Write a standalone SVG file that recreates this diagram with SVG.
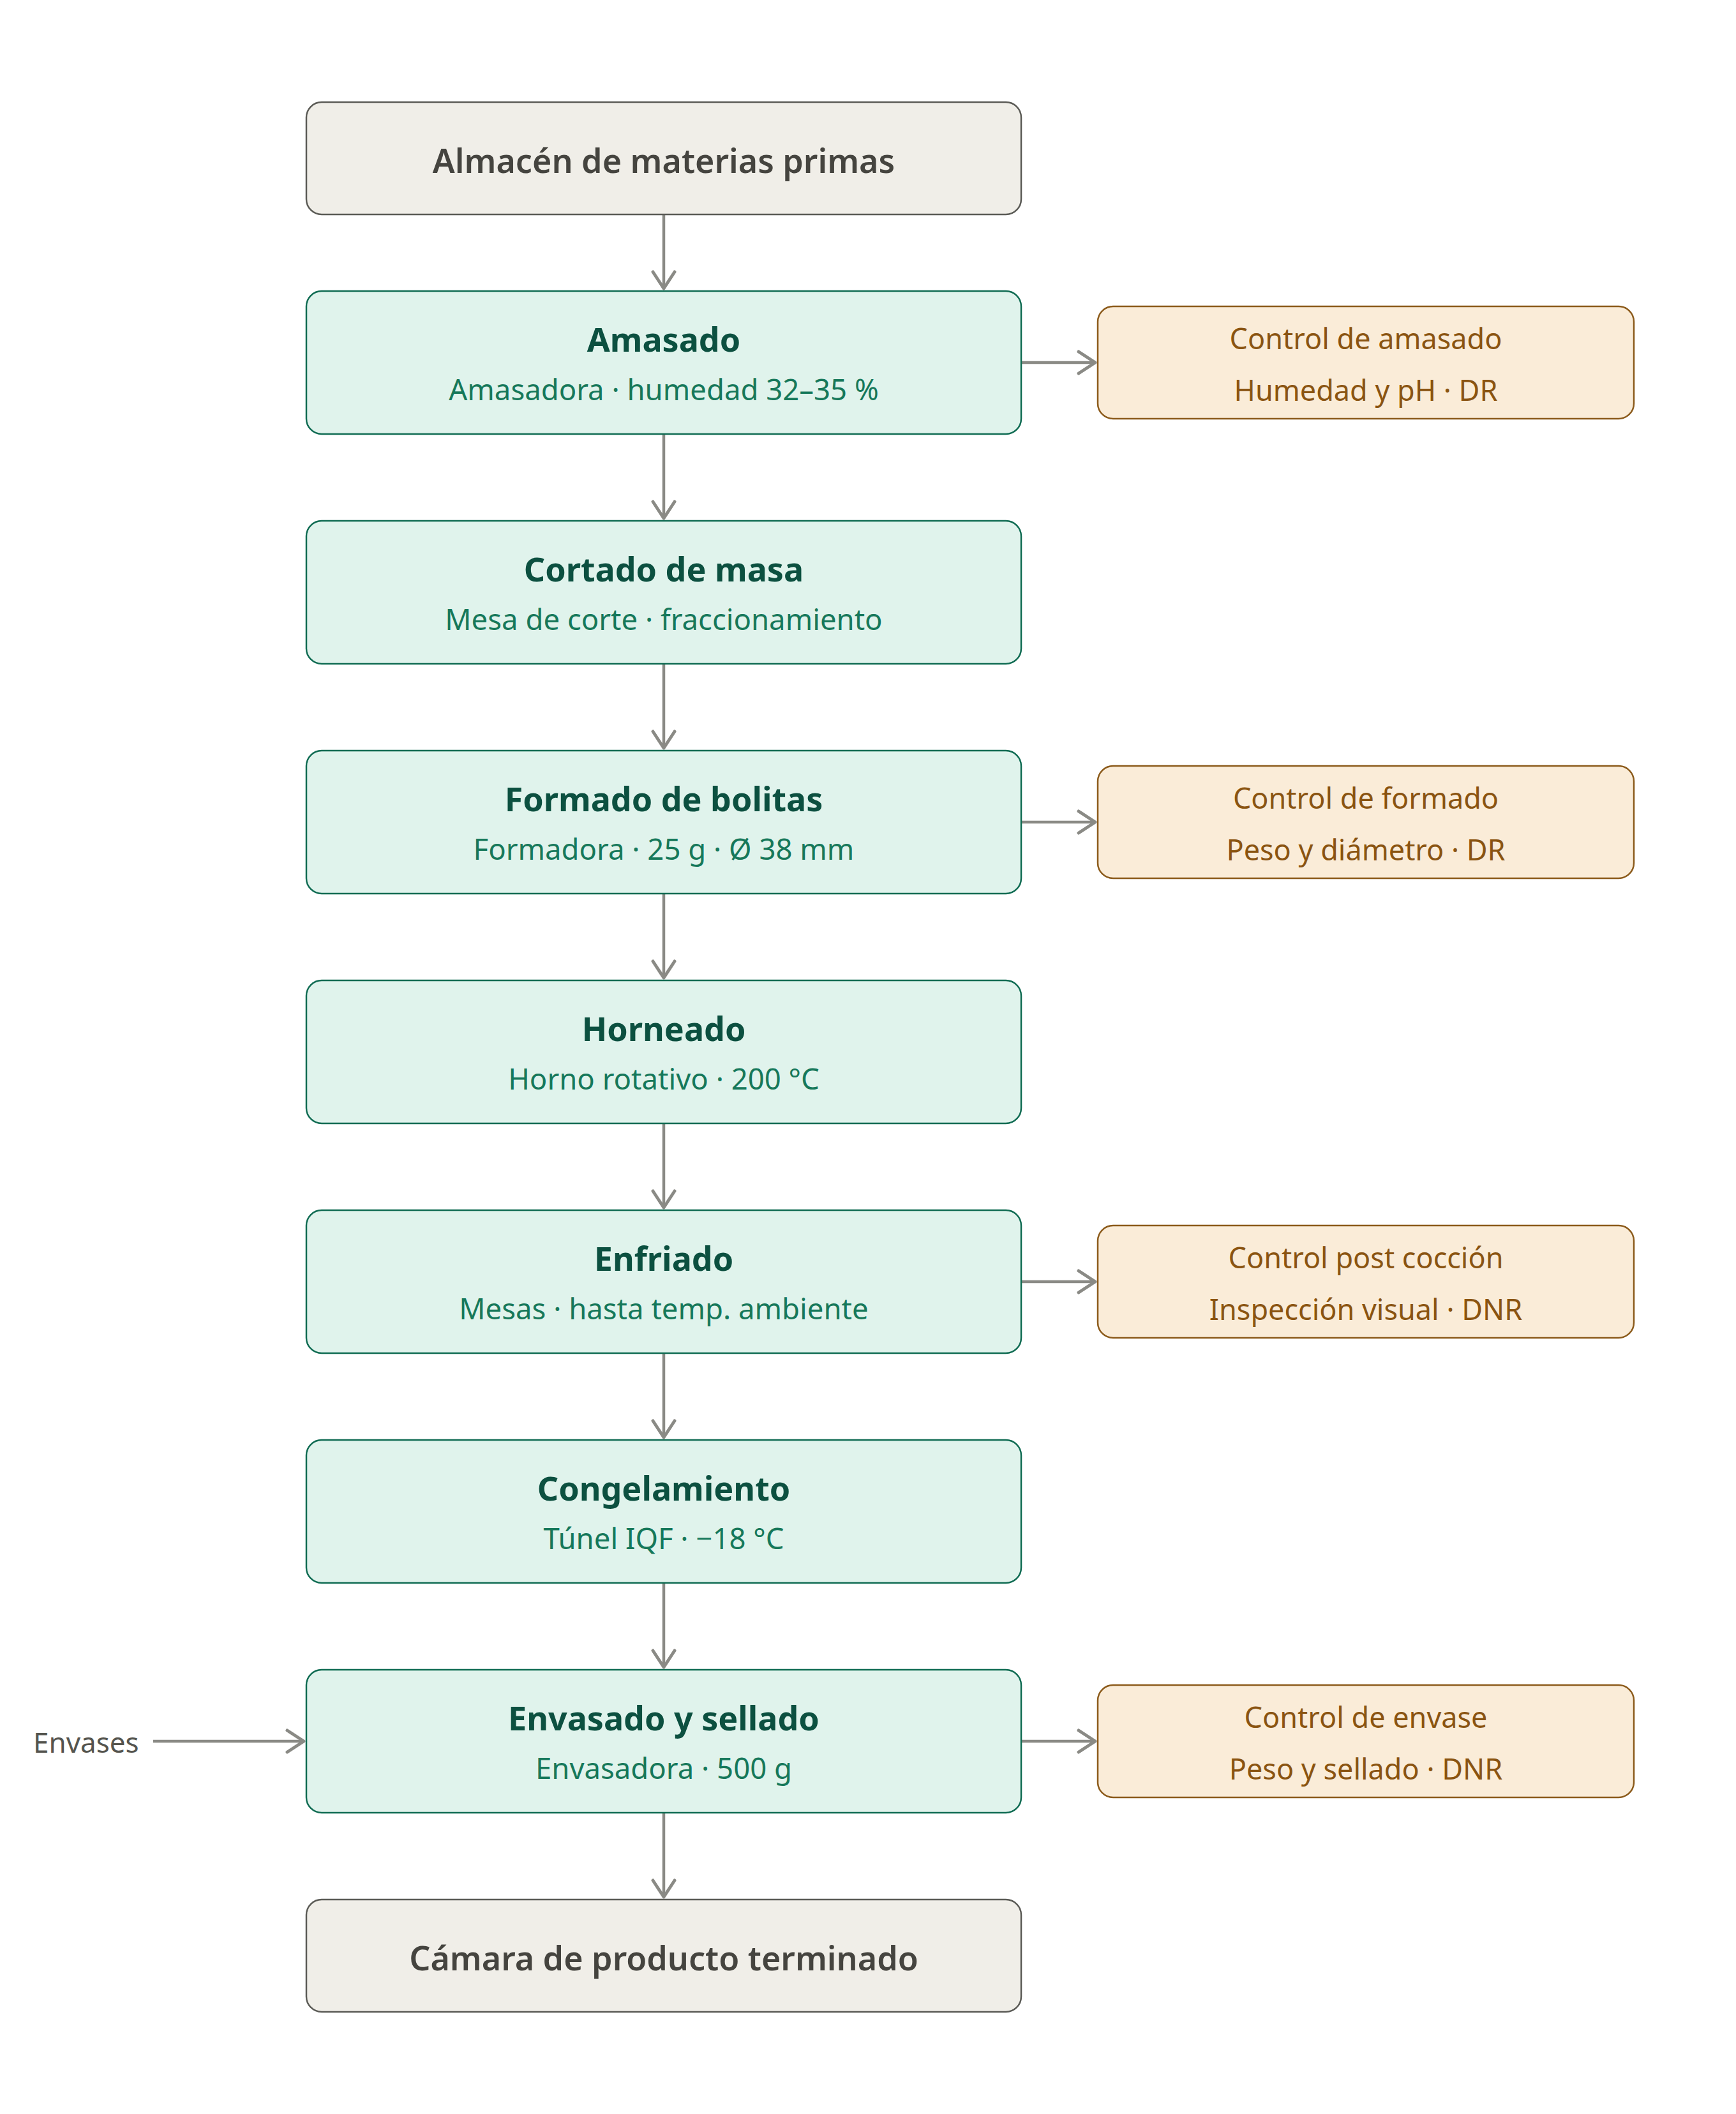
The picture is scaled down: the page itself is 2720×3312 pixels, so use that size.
<svg xmlns="http://www.w3.org/2000/svg" width="2720" height="3312" viewBox="0 0 2720 3312">
<defs>
<marker id="arr" markerUnits="userSpaceOnUse" markerWidth="40" markerHeight="40" viewBox="0 0 40 40" refX="30" refY="20" orient="auto">
<path d="M4,3 L30,20 L4,37" fill="none" stroke="#8a8a85" stroke-width="5" stroke-linecap="round" stroke-linejoin="round"/>
</marker>
<style>
.main rect{fill:#e0f3ec;stroke:#0f6b52;stroke-width:2.5}
.store rect{fill:#f0eee8;stroke:#5a5a55;stroke-width:2.5}
.ctrl rect{fill:#faecd8;stroke:#8b5a1a;stroke-width:2.5}
text{font-family:"Noto Sans","Open Sans","DejaVu Sans",sans-serif;text-anchor:middle}
.t{font-size:52px;font-weight:700;fill:#0c5040}
.s{font-size:45.5px;fill:#16785a}
.g{font-size:52px;font-weight:600;fill:#45443f}
.c{font-size:45px;fill:#8a5411}
.lbl{font-size:44px;fill:#55554f;text-anchor:start}
.conn line{stroke:#8a8a85;stroke-width:4.5;marker-end:url(#arr)}
</style>
</defs>
<rect width="2720" height="3312" fill="#ffffff"/>
<g class="conn" id="connectors">
<line x1="1040" y1="336" x2="1040" y2="452"/>
<line x1="1040" y1="680" x2="1040" y2="812"/>
<line x1="1040" y1="1040" x2="1040" y2="1172"/>
<line x1="1040" y1="1400" x2="1040" y2="1532"/>
<line x1="1040" y1="1760" x2="1040" y2="1892"/>
<line x1="1040" y1="2120" x2="1040" y2="2252"/>
<line x1="1040" y1="2480" x2="1040" y2="2612"/>
<line x1="1040" y1="2840" x2="1040" y2="2972"/>
<line x1="1600" y1="568" x2="1716" y2="568"/>
<line x1="1600" y1="1288" x2="1716" y2="1288"/>
<line x1="1600" y1="2008" x2="1716" y2="2008"/>
<line x1="1600" y1="2728" x2="1716" y2="2728"/>
<line x1="240" y1="2728" x2="476" y2="2728"/>
</g>
<g id="almacen" class="store"><rect x="480" y="160" width="1120" height="176" rx="24"/><text class="g" x="1040" y="271">Almacén de materias primas</text></g>
<g id="amasado" class="main"><rect x="480" y="456" width="1120" height="224" rx="24"/><text class="t" x="1040" y="551">Amasado</text><text class="s" x="1040" y="627">Amasadora · humedad 32–35 %</text></g>
<g id="cortado" class="main"><rect x="480" y="816" width="1120" height="224" rx="24"/><text class="t" x="1040" y="911">Cortado de masa</text><text class="s" x="1040" y="987">Mesa de corte · fraccionamiento</text></g>
<g id="formado" class="main"><rect x="480" y="1176" width="1120" height="224" rx="24"/><text class="t" x="1040" y="1271">Formado de bolitas</text><text class="s" x="1040" y="1347">Formadora · 25 g · Ø 38 mm</text></g>
<g id="horneado" class="main"><rect x="480" y="1536" width="1120" height="224" rx="24"/><text class="t" x="1040" y="1631">Horneado</text><text class="s" x="1040" y="1707">Horno rotativo · 200 °C</text></g>
<g id="enfriado" class="main"><rect x="480" y="1896" width="1120" height="224" rx="24"/><text class="t" x="1040" y="1991">Enfriado</text><text class="s" x="1040" y="2067">Mesas · hasta temp. ambiente</text></g>
<g id="congelamiento" class="main"><rect x="480" y="2256" width="1120" height="224" rx="24"/><text class="t" x="1040" y="2351">Congelamiento</text><text class="s" x="1040" y="2427">Túnel IQF · −18 °C</text></g>
<g id="envasado" class="main"><rect x="480" y="2616" width="1120" height="224" rx="24"/><text class="t" x="1040" y="2711">Envasado y sellado</text><text class="s" x="1040" y="2787">Envasadora · 500 g</text></g>
<g id="camara" class="store"><rect x="480" y="2976" width="1120" height="176" rx="24"/><text class="g" x="1040" y="3087">Cámara de producto terminado</text></g>
<g id="ctrl-amasado" class="ctrl"><rect x="1720" y="480" width="840" height="176" rx="24"/><text class="c" x="2140" y="547">Control de amasado</text><text class="c" x="2140" y="628">Humedad y pH · DR</text></g>
<g id="ctrl-formado" class="ctrl"><rect x="1720" y="1200" width="840" height="176" rx="24"/><text class="c" x="2140" y="1267">Control de formado</text><text class="c" x="2140" y="1348">Peso y diámetro · DR</text></g>
<g id="ctrl-post" class="ctrl"><rect x="1720" y="1920" width="840" height="176" rx="24"/><text class="c" x="2140" y="1987">Control post cocción</text><text class="c" x="2140" y="2068">Inspección visual · DNR</text></g>
<g id="ctrl-envase" class="ctrl"><rect x="1720" y="2640" width="840" height="176" rx="24"/><text class="c" x="2140" y="2707">Control de envase</text><text class="c" x="2140" y="2788">Peso y sellado · DNR</text></g>
<g id="envases"><text class="lbl" x="52" y="2746">Envases</text></g>
</svg>
